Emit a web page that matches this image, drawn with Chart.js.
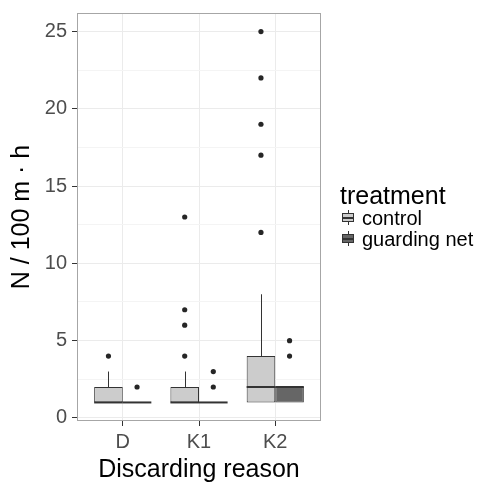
<!DOCTYPE html>
<html>
<head>
<meta charset="utf-8">
<script src="https://cdn.jsdelivr.net/npm/chart.js@4.4.1/dist/chart.umd.min.js"></script>
<style>
  html, body { margin: 0; padding: 0; background: #fff; }
  #wrap { position: relative; width: 478px; height: 504px; }
  #chart { position: absolute; left: 0; top: 0; }
  .lg { position: absolute; font-family: "Liberation Sans", Arial, sans-serif; color: #000; white-space: nowrap; }
  .lg-title { left: 340px; top: 180px; font-size: 25px; line-height: 30px; }
  .lg-label { left: 362px; font-size: 20px; line-height: 21px; }
  .key { position: absolute; left: 342px; width: 12px; height: 15px; }
  .key .wh { position: absolute; left: 5.5px; top: 0; width: 1px; height: 15px; background: #333; }
  .key .bx { position: absolute; left: 0; top: 3px; width: 10px; height: 7px; border: 1px solid #333; }
  .key .md { position: absolute; left: 0; top: 6.5px; width: 12px; height: 2px; background: #333; }
</style>
</head>
<body>
<div id="wrap">
  <canvas id="chart" width="478" height="504"></canvas>
  <div class="lg lg-title">treatment</div>
  <div id="legendItems"></div>
</div>
<script>
// categories and groups
const categories = ['D', 'K1', 'K2'];
const treatments = ['control', 'guarding net'];
const treatmentColors = ['#cccccc', '#666666'];

// box statistics, one entry per category
const controlLower = [1, 1, 1];
const controlQ1 = [1, 1, 1];
const controlMedian = [1, 1, 2];
const controlQ3 = [2, 2, 4];
const controlUpper = [3, 3, 8];
const controlOutliers = [[4], [4, 6, 7, 13], [12, 17, 19, 22, 25]];

const guardLower = [1, 1, 1];
const guardQ1 = [1, 1, 1];
const guardMedian = [1, 1, 2];
const guardQ3 = [1, 1, 2];
const guardUpper = [1, 1, 2];
const guardOutliers = [[2], [2, 3], [4, 5]];

// axis ticks
const yMajorTicks = [0, 5, 10, 15, 20, 25];
const yMinorTicks = [2.5, 7.5, 12.5, 17.5, 22.5];

function makeDataset(label, color, q1, q3, lower, median, upper, outliers) {
  return {
    label: label,
    data: categories.map((c, i) => ({ x: i + 1, y: [q1[i], q3[i]] })),
    stats: categories.map((c, i) => ({ lower: lower[i], median: median[i], upper: upper[i], outliers: outliers[i] })),
    backgroundColor: color,
    borderColor: '#333333',
    borderWidth: 1,
    borderSkipped: false,
    categoryPercentage: 0.75,
    barPercentage: 1
  };
}

const datasets = [
  makeDataset(treatments[0], treatmentColors[0], controlQ1, controlQ3, controlLower, controlMedian, controlUpper, controlOutliers),
  makeDataset(treatments[1], treatmentColors[1], guardQ1, guardQ3, guardLower, guardMedian, guardUpper, guardOutliers)
];

// whiskers behind the boxes, medians and outliers on top
const boxplotPlugin = {
  id: 'boxplotParts',
  beforeDatasetsDraw(chart) {
    const ctx = chart.ctx;
    const yScale = chart.scales.y;
    ctx.save();
    ctx.strokeStyle = '#333333';
    ctx.lineWidth = 1;
    chart.data.datasets.forEach((ds, di) => {
      const meta = chart.getDatasetMeta(di);
      meta.data.forEach((bar, i) => {
        const s = ds.stats[i];
        const x = Math.round(bar.x) + 0.5;
        const q1 = ds.data[i].y[0];
        const q3 = ds.data[i].y[1];
        ctx.beginPath();
        if (s.upper > q3) {
          ctx.moveTo(x, yScale.getPixelForValue(q3));
          ctx.lineTo(x, yScale.getPixelForValue(s.upper));
        }
        if (s.lower < q1) {
          ctx.moveTo(x, yScale.getPixelForValue(q1));
          ctx.lineTo(x, yScale.getPixelForValue(s.lower));
        }
        ctx.stroke();
      });
    });
    ctx.restore();
  },
  afterDatasetsDraw(chart) {
    const ctx = chart.ctx;
    const yScale = chart.scales.y;
    ctx.save();
    chart.data.datasets.forEach((ds, di) => {
      const meta = chart.getDatasetMeta(di);
      meta.data.forEach((bar, i) => {
        const s = ds.stats[i];
        const half = bar.width / 2;
        const ym = yScale.getPixelForValue(s.median);
        ctx.strokeStyle = '#333333';
        ctx.lineWidth = 2;
        ctx.beginPath();
        ctx.moveTo(bar.x - half, ym);
        ctx.lineTo(bar.x + half, ym);
        ctx.stroke();
        ctx.fillStyle = '#262626';
        s.outliers.forEach(v => {
          ctx.beginPath();
          ctx.arc(bar.x, yScale.getPixelForValue(v), 2.6, 0, Math.PI * 2);
          ctx.fill();
        });
      });
    });
    ctx.restore();
  },
  afterDraw(chart) {
    const a = chart.chartArea;
    const ctx = chart.ctx;
    ctx.save();
    ctx.strokeStyle = '#a6a6a6';
    ctx.lineWidth = 1;
    ctx.strokeRect(Math.round(a.left) + 0.5, Math.round(a.top) + 0.5, Math.round(a.right - a.left) - 1, Math.round(a.bottom - a.top) - 1);
    ctx.restore();
  }
};

const isMajor = v => yMajorTicks.includes(v);

new Chart(document.getElementById('chart'), {
  type: 'bar',
  data: { datasets: datasets },
  options: {
    responsive: false,
    animation: false,
    events: [],
    layout: { padding: { left: 0, top: 13, right: 157, bottom: 0 } },
    plugins: {
      legend: { display: false },
      tooltip: { enabled: false }
    },
    scales: {
      x: {
        type: 'linear',
        min: 0.4,
        max: 3.6,
        offset: false,
        afterBuildTicks: function(scale) {
          scale.ticks = categories.map((c, i) => ({ value: i + 1 }));
        },
        afterFit: function(scale) {
          scale.height = 83;
          scale.paddingLeft = 0;
          scale.paddingRight = 0;
        },
        grid: { offset: false, color: '#ebebeb', lineWidth: 1, tickLength: 5, tickColor: '#333333' },
        border: { display: false },
        ticks: {
          padding: 4,
          color: '#4d4d4d',
          font: { family: 'Liberation Sans', size: 20 },
          callback: function(value) { return categories[value - 1]; }
        },
        title: {
          display: true,
          text: 'Discarding reason',
          color: '#000',
          font: { family: 'Liberation Sans', size: 25 },
          padding: { top: 0, bottom: 19 }
        }
      },
      y: {
        min: -0.2,
        max: 26.2,
        afterBuildTicks: function(scale) {
          scale.ticks = yMajorTicks.concat(yMinorTicks).sort((a, b) => a - b).map(v => ({ value: v }));
        },
        afterFit: function(scale) {
          scale.width = 77;
          scale.paddingTop = 0;
          scale.paddingBottom = 0;
        },
        grid: {
          color: ctx => isMajor(ctx.tick.value) ? '#ebebeb' : '#f4f4f4',
          lineWidth: 1,
          tickLength: 5,
          tickColor: ctx => isMajor(ctx.tick.value) ? '#333333' : 'rgba(0,0,0,0)'
        },
        border: { display: false },
        ticks: {
          padding: 5,
          color: '#4d4d4d',
          font: { family: 'Liberation Sans', size: 20 },
          autoSkip: false,
          callback: function(value) { return isMajor(value) ? String(value) : ''; }
        },
        title: {
          display: true,
          text: 'N / 100 m · h',
          color: '#000',
          font: { family: 'Liberation Sans', size: 25 },
          padding: { top: 7, bottom: 0 }
        }
      }
    }
  },
  plugins: [boxplotPlugin]
});

// legend built from the same treatment arrays
const legendItems = document.getElementById('legendItems');
const keyTops = [210, 231];
const labelTops = [208, 229];
treatments.forEach((t, i) => {
  const key = document.createElement('div');
  key.className = 'key';
  key.style.top = keyTops[i] + 'px';
  key.innerHTML = '<div class="wh"></div><div class="bx" style="background:' + treatmentColors[i] + '"></div><div class="md"></div>';
  legendItems.appendChild(key);
  const lab = document.createElement('div');
  lab.className = 'lg lg-label';
  lab.style.top = labelTops[i] + 'px';
  lab.textContent = t;
  legendItems.appendChild(lab);
});
</script>
</body>
</html>
